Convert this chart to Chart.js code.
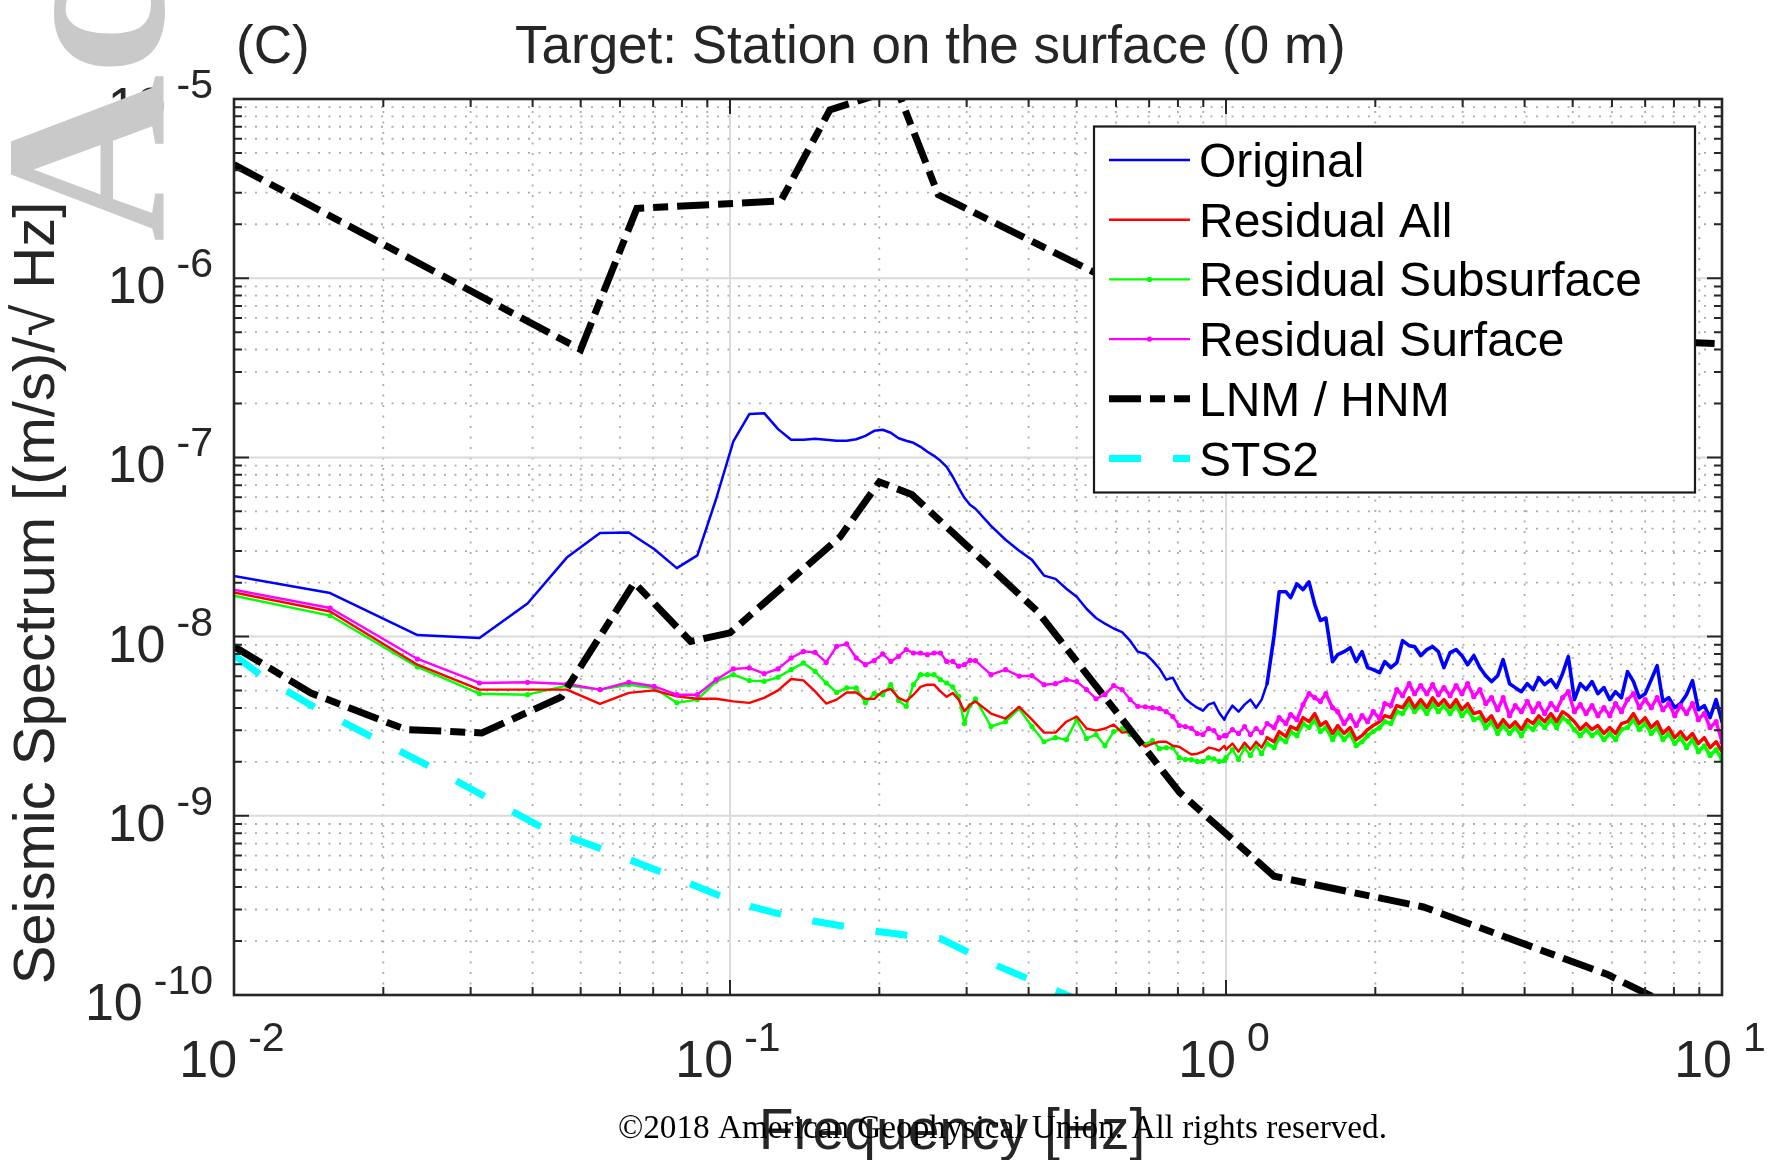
<!DOCTYPE html>
<html>
<head>
<meta charset="utf-8">
<title>Target: Station on the surface (0 m)</title>
<script src="https://cdn.jsdelivr.net/npm/chart.js@4.4.1/dist/chart.umd.min.js"></script>
<style>
  html, body { margin: 0; padding: 0; background: #ffffff; }
  #wrap { width: 1768px; height: 1160px; position: relative; overflow: hidden; }
  canvas { display: block; }
</style>
</head>
<body>
<div id="wrap"><canvas id="psd" width="1768" height="1160"></canvas></div>
<script>
// ---------------------------------------------------------------------------
// Frequencies of the amplitude spectra (Hz)
// ---------------------------------------------------------------------------
const specFreqHz = [
  0.0078125, 0.015625, 0.0234375, 0.03125, 0.0390625, 0.046875, 0.0546875, 0.0625, 0.0703125, 0.078125,
  0.0859375, 0.09375, 0.1015625, 0.109375, 0.1171875, 0.125, 0.1328125, 0.140625, 0.1484375, 0.15625,
  0.1640625, 0.171875, 0.1796875, 0.1875, 0.1953125, 0.203125, 0.2109375, 0.21875, 0.2265625, 0.234375,
  0.2421875, 0.25, 0.2578125, 0.265625, 0.2734375, 0.28125, 0.2890625, 0.296875, 0.3046875, 0.3125,
  0.3359, 0.3594, 0.3828, 0.4063, 0.4297, 0.4531, 0.4766, 0.5, 0.5234, 0.5469,
  0.5703, 0.5938, 0.6172, 0.6406, 0.6641, 0.6875, 0.7109, 0.7344, 0.7578, 0.7813,
  0.8047, 0.8281, 0.8516, 0.875, 0.8984, 0.9219, 0.9453, 0.9688, 0.9922,
  1.00, 1.03, 1.06, 1.09, 1.12, 1.15, 1.18, 1.21, 1.25, 1.28,
  1.32, 1.35, 1.39, 1.43, 1.47, 1.51, 1.55, 1.59, 1.64, 1.68,
  1.73, 1.78, 1.83, 1.88, 1.93, 1.98, 2.04, 2.09, 2.15, 2.21,
  2.27, 2.34, 2.40, 2.47, 2.54, 2.61, 2.68, 2.75, 2.83, 2.91,
  2.99, 3.07, 3.16, 3.25, 3.34, 3.43, 3.53, 3.62, 3.73, 3.83,
  3.94, 4.05, 4.16, 4.27, 4.39, 4.52, 4.64, 4.77, 4.90, 5.04,
  5.18, 5.32, 5.47, 5.62, 5.78, 5.94, 6.10, 6.27, 6.45, 6.63,
  6.81, 7.00, 7.20, 7.40, 7.60, 7.81, 8.03, 8.25, 8.48, 8.72,
  8.96, 9.21, 9.46, 9.73, 10.0
];

// Amplitude spectra, in units of 1e-9 (m/s)/sqrt(Hz)
const originalNano = [
  24.6, 17.5, 10.2, 9.83, 15.3, 27.6, 37.8, 38.1, 30.8, 24.1,
  28.4, 58.6, 122.7, 174.4, 176.6, 143.8, 125.4, 125.4, 127, 125.4,
  123.8, 123.8, 126.2, 132, 140.7, 142.6, 137.2, 127.8, 123.8, 120.6,
  114.6, 107.5, 102, 95.7, 88.6, 78, 67.7, 59.5, 54.4, 51.7,
  41.5, 34.7, 30.1, 26.8, 21.9, 21.0, 18.5, 16.7, 14.3, 12.7,
  11.8, 11.1, 10.6, 9.49, 8.24, 8.03, 7.34, 6.62, 5.75, 5.90,
  5.06, 4.50, 4.22, 4.01, 3.86, 4.17, 4.28, 3.76, 3.44,
  3.62, 4.12, 3.81, 4.17, 4.45, 4.01, 4.45, 5.46, 10.1, 17.8,
  17.8, 16.5, 19.7, 18.3, 20.2, 15.1, 12.3, 12.7, 7.25, 7.93,
  8.24, 8.67, 7.25, 8.24, 6.71, 6.54, 6.29, 7.25, 6.71, 7.15,
  9.49, 8.90, 8.79, 7.83, 8.46, 8.79, 8.24, 6.71, 8.14, 8.46,
  7.83, 6.97, 7.83, 6.71, 6.05, 5.61, 6.05, 7.44, 5.46, 5.19,
  4.93, 5.46, 5.06, 5.90, 5.39, 5.75, 5.19, 6.21, 7.73, 4.45,
  5.46, 5.06, 5.61, 4.80, 5.19, 4.45, 4.93, 4.56, 6.37, 5.61,
  4.56, 4.80, 5.75, 6.88, 4.34, 4.56, 4.01, 4.23, 4.74, 5.68,
  3.91, 4.12, 3.53, 4.45, 3.35
];

const residualAllNano = [
  20.2, 13.8, 6.97, 5.06, 5.06, 5.06, 4.21, 4.85, 5.01, 4.64,
  4.50, 4.50, 4.35, 4.27, 4.55, 5.01, 5.80, 5.70, 4.95, 4.23,
  4.45, 4.88, 4.88, 4.49, 4.49, 4.95, 5.10, 4.55, 4.35, 4.74,
  5.24, 5.39, 5.39, 4.95, 4.61, 4.85, 4.45, 3.83, 4.17, 4.35,
  3.72, 3.49, 4.06, 3.44, 2.91, 2.91, 3.35, 3.58, 3.07, 2.99,
  3.07, 3.23, 2.91, 2.95, 2.63, 2.43, 2.53, 2.59, 2.59, 2.46,
  2.43, 2.31, 2.20, 2.22, 2.28, 2.40, 2.37, 2.31, 2.46,
  2.34, 2.53, 2.28, 2.56, 2.34, 2.59, 2.40, 2.73, 2.59, 2.95,
  2.77, 3.15, 3.03, 3.53, 3.35, 3.72, 3.19, 3.35, 2.88, 3.19,
  2.88, 3.11, 2.66, 2.80, 3.03, 3.19, 3.35, 3.62, 3.53, 4.12,
  4.01, 4.56, 4.01, 4.45, 4.01, 4.56, 4.12, 4.45, 4.01, 4.45,
  3.91, 4.23, 3.72, 3.81, 3.35, 3.62, 3.11, 3.44, 3.11, 3.35,
  3.03, 3.44, 3.27, 3.62, 3.35, 3.72, 3.35, 3.81, 3.62, 3.35,
  3.03, 3.27, 3.03, 3.19, 2.88, 3.11, 2.88, 3.27, 3.35, 3.72,
  3.27, 3.53, 3.11, 3.35, 2.88, 3.11, 2.73, 2.95, 2.66, 2.88,
  2.53, 2.73, 2.40, 2.59, 2.28
];

const residualSubsurfaceNano = [
  19.5, 13.1, 6.77, 4.80, 4.74, 5.33, 5.06, 5.39, 5.17, 4.27,
  4.45, 5.63, 6.13, 5.68, 5.63, 5.93, 6.54, 7.13, 6.40, 5.51,
  4.88, 5.17, 5.17, 4.27, 4.80, 4.74, 5.39, 4.40, 4.08, 5.39,
  6.13, 6.13, 6.13, 5.75, 5.51, 5.24, 4.64, 3.27, 4.12, 4.49,
  3.15, 3.35, 3.96, 3.15, 2.59, 2.73, 2.66, 3.44, 2.70, 2.84,
  2.46, 2.95, 3.07, 2.84, 2.66, 2.50, 2.63, 2.37, 2.40, 2.40,
  2.11, 2.06, 2.06, 2.01, 2.01, 2.11, 2.08, 2.01, 2.03,
  2.11, 2.34, 2.06, 2.40, 2.17, 2.46, 2.22, 2.53, 2.40, 2.73,
  2.59, 2.95, 2.80, 3.27, 3.11, 3.44, 2.95, 3.11, 2.66, 2.95,
  2.66, 2.88, 2.46, 2.59, 2.80, 2.95, 3.11, 3.35, 3.27, 3.81,
  3.72, 4.23, 3.81, 4.12, 3.72, 4.23, 3.81, 4.12, 3.72, 4.12,
  3.62, 3.91, 3.44, 3.53, 3.11, 3.35, 2.88, 3.19, 2.88, 3.11,
  2.80, 3.19, 3.03, 3.35, 3.11, 3.44, 3.11, 3.53, 3.35, 3.03,
  2.80, 3.03, 2.80, 2.95, 2.66, 2.88, 2.66, 3.03, 3.11, 3.44,
  3.03, 3.27, 2.88, 3.11, 2.66, 2.88, 2.53, 2.73, 2.40, 2.66,
  2.28, 2.46, 2.17, 2.34, 2.06
];

const residualSurfaceNano = [
  20.77, 14.44, 7.50, 5.51, 5.56, 5.44, 5.06, 5.56, 5.28, 4.74,
  4.74, 5.75, 6.60, 6.69, 6.21, 6.60, 7.60, 8.27, 8.17, 7.18,
  8.82, 9.10, 7.60, 6.97, 7.34, 8.00, 7.27, 7.76, 8.46, 8.10,
  8.10, 7.93, 8.10, 8.10, 7.27, 7.27, 6.83, 6.97, 7.36, 7.34,
  6.13, 6.54, 6.02, 6.05, 5.39, 5.46, 5.75, 5.61, 5.06, 4.50,
  4.74, 5.33, 5.06, 4.45, 4.08, 4.06, 4.01, 3.96, 3.81, 3.58,
  3.19, 3.15, 3.08, 2.88, 2.84, 3.07, 2.99, 2.73, 2.80,
  2.80, 3.03, 2.88, 3.15, 2.84, 3.07, 2.91, 3.27, 3.11, 3.53,
  3.27, 3.67, 3.44, 4.17, 4.80, 4.56, 4.34, 4.80, 4.01, 3.81,
  3.27, 3.62, 3.19, 3.62, 3.35, 3.81, 3.49, 4.23, 4.12, 5.06,
  4.68, 5.46, 4.80, 5.33, 4.80, 5.39, 4.74, 5.19, 4.68, 5.33,
  4.80, 5.46, 4.62, 5.06, 4.23, 4.56, 3.91, 4.56, 3.62, 4.12,
  3.81, 4.34, 3.81, 4.23, 3.72, 4.23, 3.91, 4.56, 4.93, 3.81,
  4.17, 3.72, 4.12, 3.62, 4.01, 3.62, 4.23, 3.81, 4.45, 4.80,
  4.01, 4.45, 4.01, 4.56, 3.91, 4.23, 3.62, 4.12, 3.72, 4.23,
  3.44, 3.72, 3.11, 3.35, 2.59
];

// Peterson high / low noise models, (m/s)/sqrt(Hz)
const hnmFreqHz = [0.01, 0.05, 0.0649, 0.1266, 0.159, 0.217, 0.263, 0.6, 1.25, 3.125, 4.545, 10];
const hnmValues = [4.3e-6, 4.0e-7, 2.45e-6, 2.7e-6, 8.7e-6, 1.14e-5, 2.92e-6, 9.4e-7, 1.6e-7, 1.9e-7, 4.7e-7, 4.3e-7];
const lnmFreqHz = [0.01, 0.01429, 0.0222, 0.0316, 0.0457, 0.0641, 0.0833, 0.1, 0.1667, 0.2, 0.2326, 0.417, 0.806, 1.25, 2.5, 5.88, 10];
const lnmValues = [8.8e-9, 4.84e-9, 3.03e-9, 2.9e-9, 4.6e-9, 2.0e-8, 9.4e-9, 1.05e-8, 3.6e-8, 7.3e-8, 6.2e-8, 1.38e-8, 1.35e-9, 4.6e-10, 3.1e-10, 1.3e-10, 6.3e-11];

// STS-2 self noise, (m/s)/sqrt(Hz)
const sts2FreqHz = [0.01, 0.0114, 0.0146, 0.0191, 0.0249, 0.0285, 0.0418, 0.0554, 0.0735, 0.0962, 0.111,
                    0.128, 0.149, 0.171, 0.199, 0.230, 0.266, 0.304, 0.349, 0.402, 0.477, 0.55];
const sts2Values = [7.9e-9, 6.0e-9, 4.0e-9, 2.73e-9, 1.88e-9, 1.53e-9, 8.6e-10, 6.5e-10, 4.8e-10, 3.55e-10, 3.1e-10,
                    2.8e-10, 2.57e-10, 2.41e-10, 2.26e-10, 2.15e-10, 2.06e-10, 1.72e-10, 1.44e-10, 1.22e-10, 1.0e-10, 8.3e-11];

// Axis decades (exponents of ten) used for ticks and labels
const xDecades = [-2, -1, 0, 1];
const yDecades = [-10, -9, -8, -7, -6, -5];

const legendLabels = ['Original', 'Residual All', 'Residual Subsurface', 'Residual Surface', 'LNM / HNM', 'STS2'];
const titleText = 'Target: Station on the surface (0 m)';
const panelTag = '(C)';
const xTitle = 'Frequency [Hz]';
const yTitle = 'Seismic Spectrum [(m/s)/\u221A Hz]';
const copyrightText = '\u00A92018 American Geophysical Union. All rights reserved.';
const watermarkText = 'Accepted Article';

// ---------------------------------------------------------------------------
const NANO = 1e-9;
const SANS = '"Liberation Sans", Arial, Helvetica, sans-serif';
const SERIF = '"Liberation Serif", "Times New Roman", serif';
const AXIS_COLOR = '#262626';
const DENSE_FROM_HZ = 1.2;   // above this the spectra are densely sampled

const toPoints = (fs, vs, unit) => fs.map((f, i) => ({ x: f, y: vs[i] * unit }));

function minorValues(decs) {
  const out = [];
  for (let i = 0; i < decs.length - 1; i++) {
    for (let m = 2; m <= 9; m++) out.push(m * Math.pow(10, decs[i]));
  }
  return out;
}
const majorValues = decs => decs.map(d => Math.pow(10, d));

// Dotted minor grid and solid major grid, under the curves
const gridPlugin = {
  id: 'decadeGrid',
  beforeDatasetsDraw(chart) {
    const { ctx, chartArea: a, scales } = chart;
    const xs = scales.x, ys = scales.y;
    ctx.save();
    ctx.beginPath();
    ctx.rect(a.left, a.top, a.right - a.left, a.bottom - a.top);
    ctx.clip();

    ctx.lineWidth = 1.8;
    ctx.strokeStyle = '#acacac';
    ctx.setLineDash([2, 8.5]);
    ctx.beginPath();
    for (const v of minorValues(xDecades)) {
      const p = xs.getPixelForValue(v);
      ctx.moveTo(p, a.bottom); ctx.lineTo(p, a.top);
    }
    for (const v of minorValues(yDecades)) {
      const p = ys.getPixelForValue(v);
      ctx.moveTo(a.left, p); ctx.lineTo(a.right, p);
    }
    ctx.stroke();

    ctx.setLineDash([]);
    ctx.lineWidth = 2;
    ctx.strokeStyle = '#dadada';
    ctx.beginPath();
    for (const v of majorValues(xDecades)) {
      const p = xs.getPixelForValue(v);
      ctx.moveTo(p, a.bottom); ctx.lineTo(p, a.top);
    }
    for (const v of majorValues(yDecades)) {
      const p = ys.getPixelForValue(v);
      ctx.moveTo(a.left, p); ctx.lineTo(a.right, p);
    }
    ctx.stroke();
    ctx.restore();
  }
};

function drawPower(ctx, baseY, expY, exp, align, anchor) {
  // "10" with a raised exponent
  ctx.font = `52px ${SANS}`;
  const wBase = ctx.measureText('10').width;
  ctx.font = `41px ${SANS}`;
  const expStr = String(exp);
  const wExp = ctx.measureText(expStr).width;
  const gap = 11;
  let start;
  if (align === 'right') start = anchor - wExp - gap - wBase;
  else start = anchor - (wBase + gap + wExp) / 2 - 2;
  ctx.textAlign = 'left';
  ctx.textBaseline = 'alphabetic';
  ctx.font = `52px ${SANS}`;
  ctx.fillText('10', start, baseY);
  ctx.font = `41px ${SANS}`;
  ctx.fillText(expStr, start + wBase + gap, expY);
}

// Axis box, inward ticks, labels, legend and page text
const framePlugin = {
  id: 'frameAndText',
  afterDatasetsDraw(chart) {
    const { ctx, chartArea: a, scales } = chart;
    const xs = scales.x, ys = scales.y;
    ctx.save();

    // ticks on all four sides
    ctx.strokeStyle = AXIS_COLOR;
    ctx.lineWidth = 2;
    ctx.beginPath();
    const xTicks = majorValues(xDecades).map(v => [v, 15]).concat(minorValues(xDecades).map(v => [v, 8]));
    const yTicks = majorValues(yDecades).map(v => [v, 15]).concat(minorValues(yDecades).map(v => [v, 8]));
    for (const [v, len] of xTicks) {
      const p = xs.getPixelForValue(v);
      ctx.moveTo(p, a.bottom); ctx.lineTo(p, a.bottom - len);
      ctx.moveTo(p, a.top); ctx.lineTo(p, a.top + len);
    }
    for (const [v, len] of yTicks) {
      const p = ys.getPixelForValue(v);
      ctx.moveTo(a.left, p); ctx.lineTo(a.left + len, p);
      ctx.moveTo(a.right, p); ctx.lineTo(a.right - len, p);
    }
    ctx.stroke();
    ctx.lineWidth = 2.6;
    ctx.strokeRect(a.left, a.top, a.right - a.left, a.bottom - a.top);

    // legend
    const L = { x: 1094, y: 126.5, w: 601, h: 366, s0: 1109, s1: 1190, tx: 1199,
                rows: [160, 219.7, 279.4, 339.1, 398.8, 458.5] };
    ctx.fillStyle = '#ffffff';
    ctx.fillRect(L.x, L.y, L.w, L.h);
    ctx.strokeStyle = '#1a1a1a';
    ctx.lineWidth = 2.2;
    ctx.strokeRect(L.x, L.y, L.w, L.h);
    legendLabels.forEach((label, i) => {
      const ds = chart.data.datasets.find(d => d.label === label);
      const yRow = L.rows[i];
      ctx.save();
      ctx.strokeStyle = ds.borderColor;
      ctx.lineWidth = ds.borderWidth;
      ctx.lineCap = 'butt';
      ctx.setLineDash(ds.borderDash || []);
      ctx.beginPath();
      ctx.moveTo(L.s0, yRow); ctx.lineTo(L.s1, yRow);
      ctx.stroke();
      if (ds.pointRadius > 0) {
        ctx.fillStyle = ds.borderColor;
        ctx.beginPath();
        ctx.arc((L.s0 + L.s1) / 2, yRow, ds.pointRadius, 0, Math.PI * 2);
        ctx.fill();
      }
      ctx.restore();
      ctx.fillStyle = '#000000';
      ctx.font = `48px ${SANS}`;
      ctx.textAlign = 'left';
      ctx.textBaseline = 'alphabetic';
      ctx.fillText(label, L.tx, yRow + 17);
    });

    // tick labels
    ctx.fillStyle = AXIS_COLOR;
    for (const d of yDecades) {
      const p = ys.getPixelForValue(Math.pow(10, d));
      drawPower(ctx, p + 25, p - 1, d, 'right', 213);
    }
    for (const d of xDecades) {
      const p = xs.getPixelForValue(Math.pow(10, d));
      drawPower(ctx, 1077, 1051, d, 'center', p);
    }

    // titles
    ctx.fillStyle = AXIS_COLOR;
    ctx.font = `53px ${SANS}`;
    ctx.textAlign = 'left';
    ctx.fillText(panelTag, 236, 63);
    ctx.fillText(titleText, 515, 63);

    ctx.font = `57px ${SANS}`;
    ctx.textAlign = 'center';
    ctx.fillText(xTitle, 952, 1149);

    ctx.save();
    ctx.translate(54, 593);
    ctx.rotate(-Math.PI / 2);
    ctx.font = `58px ${SANS}`;
    ctx.textAlign = 'center';
    ctx.fillText(yTitle, 0, 0);
    ctx.restore();

    // copyright line
    ctx.save();
    ctx.font = `34px ${SERIF}`;
    ctx.fillStyle = '#000000';
    ctx.textAlign = 'left';
    const cw = ctx.measureText(copyrightText).width;
    ctx.translate(618, 1138);
    ctx.scale(769 / cw, 1);
    ctx.fillText(copyrightText, 0, 0);
    ctx.restore();

    // vertical watermark
    ctx.save();
    ctx.translate(163, 242);
    ctx.rotate(-Math.PI / 2);
    ctx.font = `bold 232px ${SERIF}`;
    ctx.fillStyle = '#c9c9c9';
    ctx.textAlign = 'left';
    ctx.fillText(watermarkText, 0, 0);
    ctx.restore();

    ctx.restore();
  }
};

const whiteBg = {
  id: 'whiteBg',
  beforeDraw(chart) {
    const c = chart.ctx;
    c.save();
    c.fillStyle = '#ffffff';
    c.fillRect(0, 0, chart.width, chart.height);
    c.restore();
  }
};

const lineStyle = (color, width, extra) => Object.assign({
  borderColor: color, backgroundColor: color, borderWidth: width,
  pointRadius: 0, pointHoverRadius: 0, tension: 0, fill: false, clip: 0,
  borderJoinStyle: 'round', borderCapStyle: 'round'
}, extra || {});

// thicker stroke where the spectra are densely sampled
const denseWidth = (thin, thick) => ({
  borderWidth: ctx => (ctx.p0 && ctx.p0.parsed.x >= DENSE_FROM_HZ ? thick : thin)
});

new Chart(document.getElementById('psd'), {
  type: 'line',
  data: {
    datasets: [
      Object.assign({ label: 'STS2', data: toPoints(sts2FreqHz, sts2Values, 1) },
        lineStyle('#00ffff', 7, { borderDash: [32, 32], borderJoinStyle: 'miter', borderCapStyle: 'butt', order: 0 })),
      Object.assign({ label: 'LNM / HNM', data: toPoints(hnmFreqHz, hnmValues, 1) },
        lineStyle('#000000', 7, { borderDash: [32, 9, 15, 9], borderJoinStyle: 'miter', borderCapStyle: 'butt', order: 1 })),
      Object.assign({ label: 'LNM', data: toPoints(lnmFreqHz, lnmValues, 1) },
        lineStyle('#000000', 7, { borderDash: [32, 9, 15, 9], borderJoinStyle: 'miter', borderCapStyle: 'butt', order: 1 })),
      Object.assign({ label: 'Residual Surface', data: toPoints(specFreqHz, residualSurfaceNano, NANO) },
        lineStyle('#ff00ff', 2.4, { pointRadius: 2.6, pointBorderWidth: 0, pointBackgroundColor: '#ff00ff', order: 2,
                                    segment: denseWidth(2.4, 3.4) })),
      Object.assign({ label: 'Residual All', data: toPoints(specFreqHz, residualAllNano, NANO) },
        lineStyle('#ff0000', 2.4, { order: 3, segment: denseWidth(2.4, 3.4) })),
      Object.assign({ label: 'Residual Subsurface', data: toPoints(specFreqHz, residualSubsurfaceNano, NANO) },
        lineStyle('#00ff00', 2.4, { pointRadius: 2.6, pointBorderWidth: 0, pointBackgroundColor: '#00ff00', order: 4,
                                    segment: denseWidth(2.4, 3.6) })),
      Object.assign({ label: 'Original', data: toPoints(specFreqHz, originalNano, NANO) },
        lineStyle('#0000ff', 2.5, { order: 5, segment: denseWidth(2.5, 3.6) }))
    ]
  },
  options: {
    responsive: false,
    maintainAspectRatio: false,
    devicePixelRatio: 1,
    animation: false,
    events: [],
    parsing: false,
    normalized: true,
    layout: { padding: { left: 234, top: 99, right: 46, bottom: 165 } },
    plugins: { legend: { display: false }, tooltip: { enabled: false }, title: { display: false } },
    scales: {
      x: { type: 'logarithmic', min: 0.01, max: 10, display: false },
      y: { type: 'logarithmic', min: 1e-10, max: 1e-5, display: false }
    }
  },
  plugins: [whiteBg, gridPlugin, framePlugin]
});
</script>
</body>
</html>
